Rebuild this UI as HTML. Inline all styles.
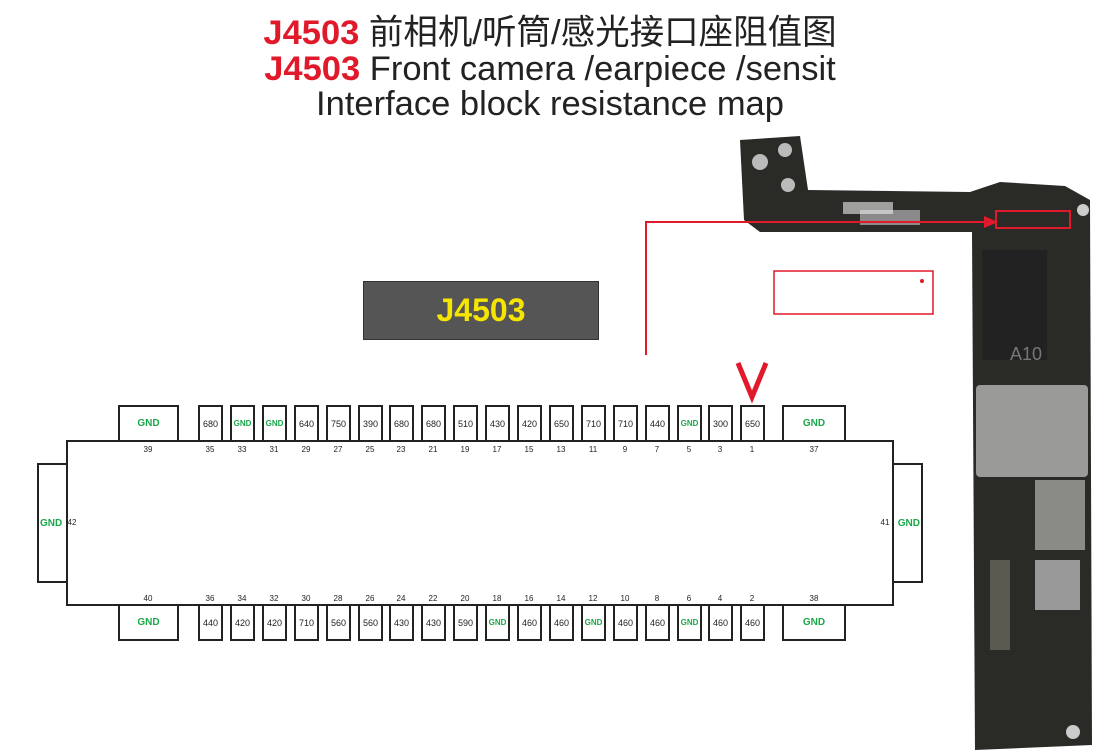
<!DOCTYPE html>
<html><head><meta charset="utf-8"><style>
body{margin:0;width:1118px;height:756px;background:#fff;position:relative;overflow:hidden;font-family:"Liberation Sans","Noto Sans CJK SC",sans-serif}
.a{position:absolute}
.b{position:absolute;border:2px solid #222;box-sizing:border-box;display:flex;align-items:center;justify-content:center;font-size:9px;color:#222;background:#fff}
.g{color:#1aa84a;font-weight:bold}
.n{position:absolute;font-size:8px;color:#222;width:30px;text-align:center}
.t{position:absolute;left:0;width:1118px;text-align:center;font-size:34.5px;color:#222;line-height:35px}
.r{color:#e0192b;font-weight:bold}
</style></head><body>
<div class="t" style="top:16px;left:-9px"><span class="r">J4503</span> 前相机/听筒/感光接口座阻值图</div>
<div class="t" style="top:52px;left:-9px"><span class="r">J4503</span> Front camera /earpiece /sensit</div>
<div class="t" style="top:87px;left:-9px">Interface block resistance map</div>

<div class="a" style="left:363px;top:281px;width:234px;height:57px;background:#555;border:1px solid #333;color:#f5e500;font-size:32px;font-weight:bold;display:flex;align-items:center;justify-content:center">J4503</div>

<svg class="a" style="left:0;top:0" width="1118" height="756">
<g>
<path d="M740 140 L800 136 L808 190 L970 192 L1000 182 L1065 186 L1090 200 L1092 745 L975 750 L972 232 L760 232 L744 220 Z" fill="#2a2a26"/>
<rect x="976" y="385" width="112" height="92" fill="#9a9a98" rx="4"/>
<rect x="982" y="250" width="65" height="110" fill="#222"/>
<text x="1010" y="360" font-size="18" fill="#777" font-family="Liberation Sans">A10</text>
<rect x="1035" y="480" width="50" height="70" fill="#8a8a86"/>
<rect x="1035" y="560" width="45" height="50" fill="#999"/>
<rect x="990" y="560" width="20" height="90" fill="#5a5a50"/>
<rect x="860" y="210" width="60" height="15" fill="#8a8a8a"/>
<circle cx="760" cy="162" r="8" fill="#bbb"/><circle cx="785" cy="150" r="7" fill="#bbb"/><circle cx="788" cy="185" r="7" fill="#bbb"/>
<circle cx="1083" cy="210" r="6" fill="#ccc"/><circle cx="1073" cy="732" r="7" fill="#ccc"/>
<rect x="843" y="202" width="50" height="12" fill="#eee" opacity=".6"/>
</g>
<polyline points="646,355 646,222 990,222" fill="none" stroke="#e0192b" stroke-width="2"/>
<polygon points="998,222 984,216 984,228" fill="#e0192b"/>
<rect x="996" y="211" width="74" height="17" fill="none" stroke="#e0192b" stroke-width="2"/>
<rect x="774" y="271" width="159" height="43" fill="none" stroke="#e0192b" stroke-width="1.5"/>
<circle cx="922" cy="281" r="2" fill="#e0192b"/>
<polyline points="738,363 752,397 766,363" fill="none" stroke="#e0192b" stroke-width="5"/>
<rect x="67" y="441" width="826" height="164" fill="#fff" stroke="#222" stroke-width="2"/>
</svg>

<div class="b g" style="left:37px;top:463px;width:31px;height:120px;font-size:10px;justify-content:flex-start;padding-left:1px">GND</div>
<div class="b g" style="left:892px;top:463px;width:31px;height:120px;font-size:10px;justify-content:flex-end;padding-right:1px">GND</div>
<div class="n" style="left:62px;top:518px;width:20px">42</div>
<div class="n" style="left:875px;top:518px;width:20px">41</div>

<div class="b g" style="left:118px;top:405px;width:61px;height:37px;font-size:10px">GND</div>
<div class="b g" style="left:782px;top:405px;width:64px;height:37px;font-size:10px">GND</div>
<div class="b g" style="left:118px;top:604px;width:61px;height:37px;font-size:10px">GND</div>
<div class="b g" style="left:782px;top:604px;width:64px;height:37px;font-size:10px">GND</div>
<div class="n" style="left:133px;top:445px">39</div>
<div class="n" style="left:799px;top:445px">37</div>
<div class="n" style="left:133px;top:594px">40</div>
<div class="n" style="left:799px;top:594px">38</div>

<div id="pins"></div>
<script>
var tp=[["35","680"],["33","GND"],["31","GND"],["29","640"],["27","750"],["25","390"],["23","680"],["21","680"],["19","510"],["17","430"],["15","420"],["13","650"],["11","710"],["9","710"],["7","440"],["5","GND"],["3","300"],["1","650"]];
var bt=[["36","440"],["34","420"],["32","420"],["30","710"],["28","560"],["26","560"],["24","430"],["22","430"],["20","590"],["18","GND"],["16","460"],["14","460"],["12","GND"],["10","460"],["8","460"],["6","GND"],["4","460"],["2","460"]];
var h="";
for(var i=0;i<18;i++){var cx=Math.round(210+i*31.9);
var t=tp[i],b=bt[i];
h+='<div class="b'+(t[1]=="GND"?' g':'')+'" style="left:'+(cx-12)+'px;top:405px;width:25px;height:37px;font-size:'+(t[1]=="GND"?8:9)+'px">'+t[1]+'</div>';
h+='<div class="n" style="left:'+(cx-15)+'px;top:445px">'+t[0]+'</div>';
h+='<div class="b'+(b[1]=="GND"?' g':'')+'" style="left:'+(cx-12)+'px;top:604px;width:25px;height:37px;font-size:'+(b[1]=="GND"?8:9)+'px">'+b[1]+'</div>';
h+='<div class="n" style="left:'+(cx-15)+'px;top:594px">'+b[0]+'</div>';}
document.getElementById("pins").innerHTML=h;
</script>
</body></html>
